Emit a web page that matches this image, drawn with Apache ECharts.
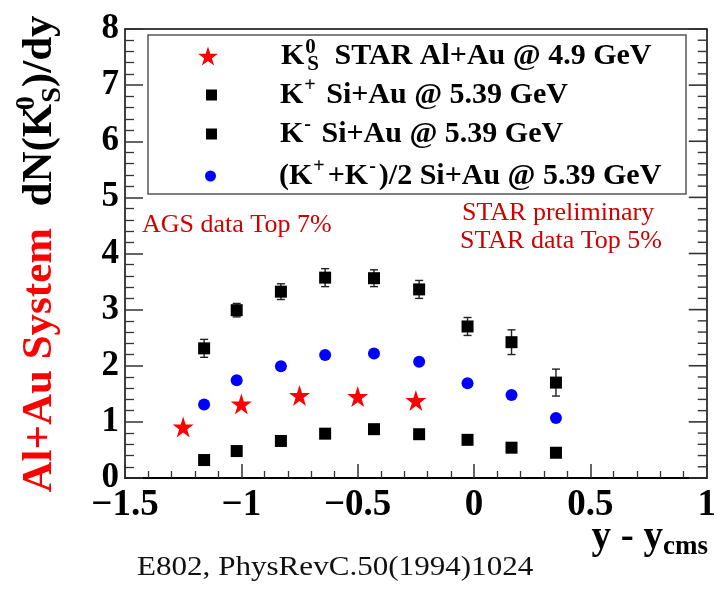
<!DOCTYPE html>
<html>
<head>
<meta charset="utf-8">
<script src="https://cdn.jsdelivr.net/npm/echarts@6/dist/echarts.min.js"></script>
<style>
  html, body { margin: 0; padding: 0; background: #fff; }
  #chart { width: 719px; height: 596px; }
</style>
</head>
<body>
<div id="chart"></div>
<script>
// K0s yield from STAR Al+Au at 4.9 GeV
const starRapidity = [-1.25, -1.0, -0.75, -0.5, -0.25];
const starK0s = [0.91, 1.32, 1.47, 1.45, 1.38];

// E802 Si+Au at 5.39 GeV
const e802Rapidity = [-1.16, -1.02, -0.83, -0.64, -0.43, -0.236, -0.028, 0.161, 0.352];
const kPlus = [2.31, 2.99, 3.32, 3.57, 3.56, 3.36, 2.70, 2.42, 1.70];
const kPlusErr = [0.16, 0.12, 0.14, 0.16, 0.15, 0.16, 0.16, 0.22, 0.24];
const kMinus = [0.32, 0.48, 0.66, 0.79, 0.87, 0.78, 0.68, 0.54, 0.45];
const kAverage = [1.31, 1.74, 1.99, 2.19, 2.22, 2.07, 1.69, 1.48, 1.07];

// axis tick labels
const xTickValues = [-1.5, -1, -0.5, 0, 0.5, 1];
const xTickLabels = ['\u22121.5', '\u22121', '\u22120.5', '0', '0.5', '1'];

// axis ranges
const X_MIN = -1.5, X_MAX = 1, Y_MIN = 0, Y_MAX = 8;
const Y_MINOR_STEP = 0.2;

const STAR_PATH = 'path://M50,0 L61.2,34.5 L97.6,34.5 L68.2,55.9 L79.4,90.5 L50,69.1 L20.6,90.5 L31.8,55.9 L2.4,34.5 L38.8,34.5 Z';

const boldSerif = 'Liberation Serif';
const pair = (xs, ys) => xs.map((x, i) => [x, ys[i]]);

// tick positions for the right-hand frame axis (major every 1, minor every 0.2)
const rightTicks = [];
for (let k = 0; k <= Math.round((Y_MAX - Y_MIN) / Y_MINOR_STEP); k++) {
  rightTicks.push([X_MAX, +(Y_MIN + k * Y_MINOR_STEP).toFixed(2), k % 5 === 0 ? 1 : 0]);
}

const LH = 38;
const legendRich = {
  gap: { width: 58 },
  m: { fontFamily: boldSerif, fontWeight: 'bold', fontSize: 30, color: '#000', lineHeight: LH },
  sup: { fontFamily: boldSerif, fontWeight: 'bold', fontSize: 20, color: '#000', verticalAlign: 'top', lineHeight: LH, padding: [0, 3, 0, 1] },
  supz: { fontFamily: boldSerif, fontWeight: 'bold', fontSize: 21, color: '#000', verticalAlign: 'top', lineHeight: LH, width: 1, padding: [0, 0, 0, 1] },
  sub: { fontFamily: boldSerif, fontWeight: 'bold', fontSize: 21, color: '#000', verticalAlign: 'bottom', lineHeight: LH, padding: [0, 8, 0, 1] }
};

const legendText = {
  kzero: '{gap| }{m|K}{supz|0}{sub|S}{m| STAR Al+Au @ 4.9 GeV}',
  kplus: '{gap| }{m|K}{sup|+}{m| Si+Au @ 5.39 GeV}',
  kminus: '{gap| }{m|K}{sup|-}{m| Si+Au @ 5.39 GeV}',
  kavg: '{gap| }{m|(K}{sup|+}{m|+K}{sup|-}{m|)/2 Si+Au @ 5.39 GeV}'
};

function makeLegend(name, left, top, size) {
  return {
    data: [name], left: left, top: top, orient: 'vertical',
    itemWidth: size, itemHeight: size, itemGap: 0, padding: 0,
    selectedMode: false,
    formatter: n => legendText[n],
    textStyle: { rich: legendRich }
  };
}

const tickStyle = { color: '#333', width: 1.5 };
const minorStyle = { color: '#333', width: 1.3 };

const chart = echarts.init(document.getElementById('chart'), null, { renderer: 'canvas' });

const option = {
  animation: false,
  backgroundColor: '#fff',
  grid: { left: 125, top: 29, right: 10, bottom: 118 },
  legend: [
    makeLegend('kzero', 198, 37, 20),
    makeLegend('kplus', 206, 76, 11),
    makeLegend('kminus', 206, 115, 11),
    makeLegend('kavg', 205, 157, 11)
  ],
  xAxis: [
    {
      type: 'value', position: 'bottom', min: X_MIN, max: X_MAX, interval: 0.5,
      axisLine: { onZero: false, show: true, lineStyle: { color: '#000', width: 2 } },
      axisTick: { show: true, inside: true, length: 14, lineStyle: tickStyle },
      minorTick: { show: true, splitNumber: 5, length: 7, lineStyle: minorStyle },
      splitLine: { show: false },
      axisLabel: {
        margin: 9, fontFamily: boldSerif, fontWeight: 'bold', fontSize: 37, color: '#000',
        formatter: v => {
          const i = xTickValues.findIndex(t => Math.abs(t - v) < 1e-9);
          return i >= 0 ? xTickLabels[i] : '';
        }
      }
    },
    {
      type: 'value', position: 'top', min: X_MIN, max: X_MAX, interval: 0.5,
      axisLine: { onZero: false, show: true, lineStyle: { color: '#000', width: 1.5 } },
      axisTick: { show: false }, axisLabel: { show: false }, splitLine: { show: false }
    }
  ],
  yAxis: [
    {
      type: 'value', position: 'left', min: Y_MIN, max: Y_MAX, interval: 1,
      axisLine: { onZero: false, show: true, lineStyle: { color: '#000', width: 1.5 } },
      axisTick: { show: true, inside: true, length: 18, lineStyle: tickStyle },
      minorTick: { show: true, splitNumber: 5, length: 9, lineStyle: minorStyle },
      splitLine: { show: false },
      axisLabel: { margin: 6, fontFamily: boldSerif, fontWeight: 'bold', fontSize: 35, color: '#000' }
    },
    {
      type: 'value', position: 'right', min: Y_MIN, max: Y_MAX, interval: 1,
      axisLine: { onZero: false, show: true, lineStyle: { color: '#000', width: 1.5 } },
      axisTick: { show: false }, axisLabel: { show: false }, splitLine: { show: false }
    }
  ],
  series: [
    {
      // inward tick marks along the right frame edge
      name: 'right-ticks', type: 'custom', xAxisIndex: 0, yAxisIndex: 0, z: 5, silent: true,
      clip: false, data: rightTicks,
      renderItem: (params, api) => {
        const p = api.coord([api.value(0), api.value(1)]);
        const major = api.value(2) === 1;
        const len = major ? 18 : 9;
        return {
          type: 'line',
          shape: { x1: p[0] - len, y1: p[1], x2: p[0], y2: p[1] },
          style: { stroke: '#333', lineWidth: major ? 1.6 : 1.4 }
        };
      }
    },
    {
      name: 'kplus-err', type: 'custom', xAxisIndex: 0, yAxisIndex: 0, z: 1,
      data: e802Rapidity.map((x, i) => [x, kPlus[i], kPlusErr[i]]),
      renderItem: (params, api) => {
        const x = api.value(0), y = api.value(1), e = api.value(2);
        const top = api.coord([x, y + e]);
        const bot = api.coord([x, y - e]);
        const style = { stroke: '#222', lineWidth: 1.4 };
        const cap = 4;
        return {
          type: 'group',
          children: [
            { type: 'line', shape: { x1: top[0], y1: top[1], x2: bot[0], y2: bot[1] }, style },
            { type: 'line', shape: { x1: top[0] - cap, y1: top[1], x2: top[0] + cap, y2: top[1] }, style },
            { type: 'line', shape: { x1: bot[0] - cap, y1: bot[1], x2: bot[0] + cap, y2: bot[1] }, style }
          ]
        };
      }
    },
    {
      name: 'kzero', type: 'scatter', z: 3, symbol: STAR_PATH, symbolSize: 21,
      itemStyle: { color: '#ff0000', opacity: 1 }, data: pair(starRapidity, starK0s)
    },
    {
      name: 'kplus', type: 'scatter', z: 3, symbol: 'rect', symbolSize: 12,
      itemStyle: { color: '#000', opacity: 1 }, data: pair(e802Rapidity, kPlus)
    },
    {
      name: 'kminus', type: 'scatter', z: 3, symbol: 'rect', symbolSize: 12,
      itemStyle: { color: '#000', opacity: 1 }, data: pair(e802Rapidity, kMinus)
    },
    {
      name: 'kavg', type: 'scatter', z: 3, symbol: 'circle', symbolSize: 12,
      itemStyle: { color: '#0000ff', opacity: 1 }, data: pair(e802Rapidity, kAverage)
    }
  ],
  graphic: [
    {
      type: 'rect', z: 0,
      shape: { x: 148, y: 35, width: 538, height: 159 },
      style: { fill: 'none', stroke: '#555', lineWidth: 1.5 }
    },
    {
      type: 'text', x: 40, y: 254, rotation: Math.PI / 2,
      style: {
        text: '{r|Al+Au System}{b|  dN(K}{supz|0}{sub|S}{b|)/dy}',
        align: 'center', verticalAlign: 'middle',
        rich: {
          r: { fontFamily: boldSerif, fontWeight: 'bold', fontSize: 43, fill: '#ff0000', lineHeight: 54 },
          b: { fontFamily: boldSerif, fontWeight: 'bold', fontSize: 43, fill: '#000', lineHeight: 54 },
          supz: { fontFamily: boldSerif, fontWeight: 'bold', fontSize: 28, fill: '#000', verticalAlign: 'top', lineHeight: 54, width: 1 },
          sub: { fontFamily: boldSerif, fontWeight: 'bold', fontSize: 28, fill: '#000', verticalAlign: 'bottom', lineHeight: 54 }
        }
      }
    },
    {
      type: 'text', right: 11, top: 518,
      style: {
        text: '{b|y - y}{sub|cms}',
        rich: {
          b: { fontFamily: boldSerif, fontWeight: 'bold', fontSize: 39, fill: '#000', lineHeight: 46 },
          sub: { fontFamily: boldSerif, fontWeight: 'bold', fontSize: 27, fill: '#000', verticalAlign: 'bottom', lineHeight: 46 }
        }
      }
    },
    {
      type: 'text', x: 137, y: 568, scaleX: 1.11,
      style: { text: 'E802, PhysRevC.50(1994)1024', fontFamily: 'Liberation Serif', fontSize: 28, fill: '#111', verticalAlign: 'middle' }
    },
    {
      type: 'text', x: 142, y: 225,
      style: { text: 'AGS data Top 7%', fontFamily: 'Liberation Serif', fontSize: 26, fill: '#d00000', verticalAlign: 'middle' }
    },
    {
      type: 'text', x: 462, y: 213,
      style: { text: 'STAR preliminary', fontFamily: 'Liberation Serif', fontSize: 26, fill: '#d00000', verticalAlign: 'middle' }
    },
    {
      type: 'text', x: 460, y: 241,
      style: { text: 'STAR data Top 5%', fontFamily: 'Liberation Serif', fontSize: 26, fill: '#d00000', verticalAlign: 'middle' }
    }
  ]
};

chart.setOption(option);
</script>
</body>
</html>
